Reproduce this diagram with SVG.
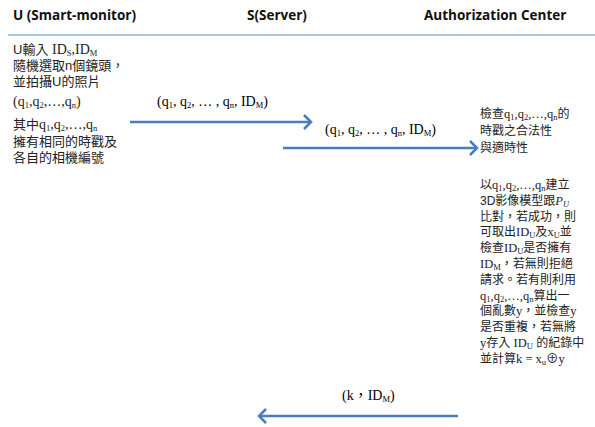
<svg xmlns="http://www.w3.org/2000/svg" width="595" height="427" viewBox="0 0 595 427">
<style>
.h{font-family:"Open Sans","Liberation Sans",sans-serif;font-weight:bold;font-size:13.5px;fill:#111}
.t{font-family:"Liberation Sans","Noto Sans CJK TC",sans-serif;font-size:12px;fill:#222}
.L{font-size:13px}
.m{font-family:"Liberation Serif","Noto Sans CJK TC",serif;font-size:12.5px}
.M{font-size:14px}
.s{font-size:8.5px}
.conn line{stroke:#4a7ebb;stroke-width:2.5;fill:none}
</style>
<defs>
<marker id="ah" markerUnits="userSpaceOnUse" markerWidth="14" markerHeight="16" refX="10" refY="8" orient="auto">
<path d="M3,1 L10,8 L3,15" fill="none" stroke="#4a7ebb" stroke-width="2.5"/>
</marker>
</defs>
<rect width="595" height="427" fill="#fff"/>
<g id="headers">
<text class="h" x="13" y="20">U (Smart-monitor)</text>
<text class="h" x="247" y="20">S(Server)</text>
<text class="h" x="424" y="20">Authorization Center</text>
<line x1="8" y1="35" x2="595" y2="35" stroke="#95b3d7" stroke-width="1.5"/>
</g>
<g id="U">
<text class="t L" x="13" y="54">U輸入 <tspan class="m M">ID</tspan><tspan class="m s" dy="2">S</tspan><tspan class="m M" dy="-2">,ID</tspan><tspan class="m s" dy="2">M</tspan></text>
<text class="t L" x="13" y="70">隨機選取n個鏡頭，</text>
<text class="t L" x="13" y="86">並拍攝U的照片</text>
<text class="t L" x="13" y="106"><tspan class="m M">(q</tspan><tspan class="m s" dy="2">1</tspan><tspan class="m M" dy="-2">,q</tspan><tspan class="m s" dy="2">2</tspan><tspan class="m M" dy="-2">,…,q</tspan><tspan class="m s" dy="2">n</tspan><tspan class="m M" dy="-2">)</tspan></text>
<text class="t L" x="13" y="129">其中<tspan class="m M">q</tspan><tspan class="m s" dy="2">1</tspan><tspan class="m M" dy="-2">,q</tspan><tspan class="m s" dy="2">2</tspan><tspan class="m M" dy="-2">,…,q</tspan><tspan class="m s" dy="2">n</tspan></text>
<text class="t L" x="13" y="146">擁有相同的時戳及</text>
<text class="t L" x="13" y="162">各自的相機編號</text>
</g>
<g id="AC">
<text class="t" x="480" y="118">檢查<tspan class="m">q</tspan><tspan class="m s" dy="2">1</tspan><tspan class="m" dy="-2">,q</tspan><tspan class="m s" dy="2">2</tspan><tspan class="m" dy="-2">,…,q</tspan><tspan class="m s" dy="2">n</tspan><tspan dy="-2">的</tspan></text>
<text class="t" x="480" y="135">時戳之合法性</text>
<text class="t" x="480" y="152">與適時性</text>
<text class="t" x="480" y="189">以<tspan class="m">q</tspan><tspan class="m s" dy="2">1</tspan><tspan class="m" dy="-2">,q</tspan><tspan class="m s" dy="2">2</tspan><tspan class="m" dy="-2">,…,q</tspan><tspan class="m s" dy="2">n</tspan><tspan dy="-2">建立</tspan></text>
<text class="t" x="480" y="204.8">3D影像模型跟<tspan class="m" font-style="italic">P</tspan><tspan class="m s" font-style="italic" dy="2">U</tspan></text>
<text class="t" x="480" y="220.6">比對，若成功，則</text>
<text class="t" x="480" y="236.4">可取出<tspan class="m">ID</tspan><tspan class="m s" dy="2">U</tspan><tspan dy="-2">及</tspan><tspan class="m">x</tspan><tspan class="m s" dy="2">U</tspan><tspan dy="-2">並</tspan></text>
<text class="t" x="480" y="252.2">檢查<tspan class="m">ID</tspan><tspan class="m s" dy="2">U</tspan><tspan dy="-2">是否擁有</tspan></text>
<text class="t" x="480" y="268"><tspan class="m">ID</tspan><tspan class="m s" dy="2">M</tspan><tspan dy="-2">，若無則拒絕</tspan></text>
<text class="t" x="480" y="283.8">請求。若有則利用</text>
<text class="t" x="480" y="299.6"><tspan class="m">q</tspan><tspan class="m s" dy="2">1</tspan><tspan class="m" dy="-2">,q</tspan><tspan class="m s" dy="2">2</tspan><tspan class="m" dy="-2">,…,q</tspan><tspan class="m s" dy="2">n</tspan><tspan dy="-2">算出一</tspan></text>
<text class="t" x="480" y="315.4">個亂數<tspan class="m">y</tspan>，並檢查<tspan class="m">y</tspan></text>
<text class="t" x="480" y="331.2">是否重複，若無將</text>
<text class="t" x="480" y="347"><tspan class="m">y</tspan>存入 <tspan class="m">ID</tspan><tspan class="m s" dy="2">U</tspan><tspan dy="-2"> 的紀錄中</tspan></text>
<text class="t" x="480" y="362.8">並計算<tspan class="m">k = x</tspan><tspan class="m s" dy="2">u</tspan><tspan class="m" dy="-2">⊕y</tspan></text>
</g>
<g id="connectors" class="conn">
<line x1="130" y1="122" x2="311" y2="122" marker-end="url(#ah)"/>
<line x1="283" y1="148" x2="477" y2="148" marker-end="url(#ah)"/>
<line x1="458" y1="416" x2="259" y2="416" marker-end="url(#ah)"/>
</g>
<g id="labels">
<text class="m M" x="157" y="106">(q<tspan class="s" dy="2">1</tspan><tspan dy="-2">, q</tspan><tspan class="s" dy="2">2</tspan><tspan dy="-2">, … , q</tspan><tspan class="s" dy="2">n</tspan><tspan dy="-2">, ID</tspan><tspan class="s" dy="2">M</tspan><tspan dy="-2">)</tspan></text>
<text class="m M" x="325" y="134">(q<tspan class="s" dy="2">1</tspan><tspan dy="-2">, q</tspan><tspan class="s" dy="2">2</tspan><tspan dy="-2">, … , q</tspan><tspan class="s" dy="2">n</tspan><tspan dy="-2">, ID</tspan><tspan class="s" dy="2">M</tspan><tspan dy="-2">)</tspan></text>
<text class="m M" x="342" y="400">(k，ID<tspan class="s" dy="2">M</tspan><tspan dy="-2">)</tspan></text>
</g>
</svg>
